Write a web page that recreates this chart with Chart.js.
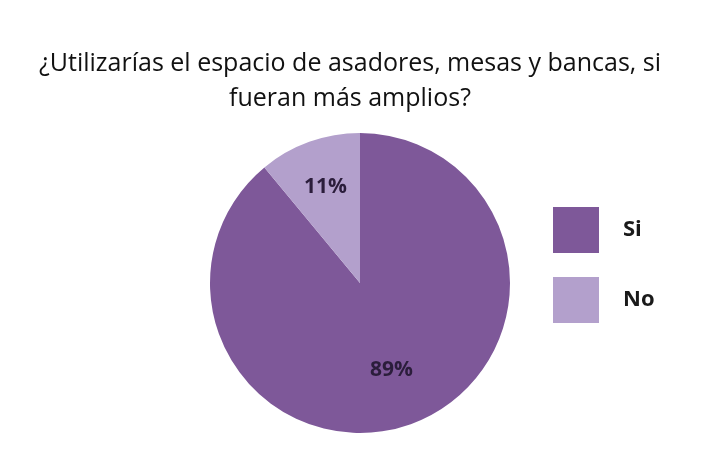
<!DOCTYPE html>
<html>
<head>
<meta charset="utf-8">
<script src="https://cdn.jsdelivr.net/npm/chart.js@4.4.1/dist/chart.umd.min.js"></script>
<style>
    html, body { margin: 0; padding: 0; background: #fff; }
    #wrap { width: 703px; height: 460px; }
</style>
</head>
<body>
<div id="wrap"><canvas id="pie-chart"></canvas></div>
<script>
const titleLines = ['¿Utilizarías el espacio de asadores, mesas y bancas, si', 'fueran más amplios?'];
const answers = ['Si', 'No'];
const percents = [89, 11];
const sliceColors = ['#7e5899', '#b3a0cc'];

// two-line heading across the full width, above the pie
const heading = {
    id: 'heading',
    afterDraw(chart) {
        const ctx = chart.ctx;
        ctx.save();
        ctx.font = '25px "Open Sans", sans-serif';
        ctx.fillStyle = '#111';
        ctx.textAlign = 'center';
        ctx.textBaseline = 'middle';
        titleLines.forEach((line, i) => ctx.fillText(line, 350, 64 + i * 35));
        ctx.restore();
    }
};

// percentage text inside each slice
const sliceLabels = {
    id: 'sliceLabels',
    afterDatasetsDraw(chart) {
        const ctx = chart.ctx;
        const arcs = chart.getDatasetMeta(0).data;
        ctx.save();
        ctx.font = 'bold 21px "Open Sans", sans-serif';
        ctx.fillStyle = '#2b1d3b';
        ctx.textAlign = 'center';
        ctx.textBaseline = 'middle';
        arcs.forEach((arc, i) => {
            const p = arc.getProps(['x', 'y', 'startAngle', 'endAngle', 'outerRadius'], true);
            const mid = (p.startAngle + p.endAngle) / 2;
            const r = p.outerRadius * (percents[i] > 50 ? 0.62 : 0.68);
            ctx.fillText(percents[i] + '%', p.x + Math.cos(mid) * r, p.y + Math.sin(mid) * r);
        });
        ctx.restore();
    }
};

// square legend to the right of the pie
const sideLegend = {
    id: 'sideLegend',
    afterDraw(chart) {
        const ctx = chart.ctx;
        const box = 46;
        const left = chart.chartArea.right + 42;
        const top = 207;
        const gap = 70;
        ctx.save();
        ctx.font = 'bold 22px "Open Sans", sans-serif';
        ctx.textBaseline = 'middle';
        answers.forEach((name, i) => {
            const y = top + i * gap;
            ctx.fillStyle = sliceColors[i];
            ctx.fillRect(left, y, box, box);
            ctx.fillStyle = '#1a1a1a';
            ctx.fillText(name, left + box + 24, y + box / 2);
        });
        ctx.restore();
    }
};

new Chart(document.getElementById('pie-chart'), {
    type: 'pie',
    data: {
        labels: answers,
        datasets: [{
            data: percents,
            backgroundColor: sliceColors,
            borderWidth: 0
        }]
    },
    options: {
        responsive: true,
        maintainAspectRatio: false,
        animation: false,
        layout: {
            padding: { left: 209, right: 192, top: 133, bottom: 27 }
        },
        plugins: {
            legend: { display: false },
            tooltip: { enabled: false },
            title: { display: false }
        }
    },
    plugins: [heading, sliceLabels, sideLegend]
});
</script>
</body>
</html>
